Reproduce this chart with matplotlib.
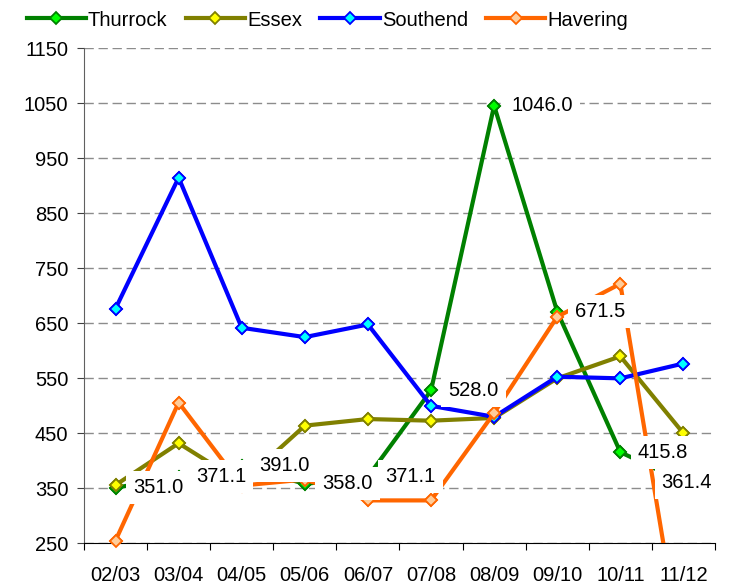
import matplotlib
matplotlib.use('Agg')
import matplotlib.pyplot as plt

plt.rcParams['font.family'] = ['Liberation Sans', 'DejaVu Sans']
plt.rcParams['lines.scale_dashes'] = False

years = ['02/03', '03/04', '04/05', '05/06', '06/07',
         '07/08', '08/09', '09/10', '10/11', '11/12']
thurrock = [351.0, 371.1, 391.0, 358.0, 371.1, 528.0, 1046.0, 671.5, 415.8, 361.4]
essex = [356, 432, 360, 464, 476, 473, 478, 550, 590, 450]
southend = [677, 915, 642, 625, 648, 500, 480, 553, 550, 577]
havering = [255, 506, 355, 366, 328, 328, 487, 662, 722, 30]

# name, values, line colour, marker face
series = [
    ('Thurrock', thurrock, '#008000', '#00FF00'),
    ('Essex', essex, '#808000', '#FFFF00'),
    ('Southend', southend, '#0000FF', '#00FFFF'),
    ('Havering', havering, '#FF6600', '#FFCC99'),
]

FS = 14.5

fig = plt.figure(figsize=(7.38, 5.84), dpi=100)
ax = fig.add_axes([0.1138, 0.0697, 0.8550, 0.8473])

x = list(range(len(years)))
for i, (name, vals, col, face) in enumerate(series):
    z = 3 + i
    ax.plot(x, vals, color=col, lw=3, marker='D', ms=6, mfc=face, mec=col,
            mew=1.3, label=name, zorder=z)
    # markers sitting on the bottom edge should not be cut off
    ax.plot(x, vals, ls='none', marker='D', ms=6, mfc=face, mec=col,
            mew=1.3, zorder=z + 0.1, clip_on=False)

# data labels on the Thurrock series
for i, v in enumerate(thurrock):
    dx = -15.7 if i == len(thurrock) - 1 else 12.6
    ax.annotate(f'{v:.1f}', (i, v), xytext=(dx, 0), textcoords='offset points',
                ha='left', va='center', fontsize=FS, zorder=20,
                bbox=dict(boxstyle='square,pad=0.35', fc='white', ec='none'))

ax.set_xlim(-0.5, len(years) - 0.5)
ax.set_ylim(250, 1150)
ax.set_yticks(range(250, 1151, 100))
ax.yaxis.grid(True, color='#8c8c8c', lw=1, linestyle=(0, (6.7, 3.4)))
ax.set_axisbelow(True)

ax.set_xticks([k - 0.5 for k in range(len(years) + 1)])
ax.set_xticklabels([])
ax.set_xticks(x, minor=True)
ax.set_xticklabels(years, minor=True)
ax.tick_params(axis='x', which='major', length=4.8, direction='out', color='black')
ax.tick_params(axis='x', which='minor', length=0, pad=16.5, labelsize=FS)
ax.tick_params(axis='y', length=4.8, pad=6.5, labelsize=FS, color='#404040')

for side in ['top', 'right']:
    ax.spines[side].set_visible(False)
ax.spines['left'].set_color('#606060')
ax.spines['bottom'].set_color('black')

fig.legend(loc='center left', bbox_to_anchor=(26.5 / 738, 1 - 20 / 584),
           ncol=4, frameon=False, fontsize=FS, handlelength=2.95,
           handletextpad=0.1, columnspacing=0.9, borderpad=0, borderaxespad=0)

fig.savefig('out.png', dpi=100)
